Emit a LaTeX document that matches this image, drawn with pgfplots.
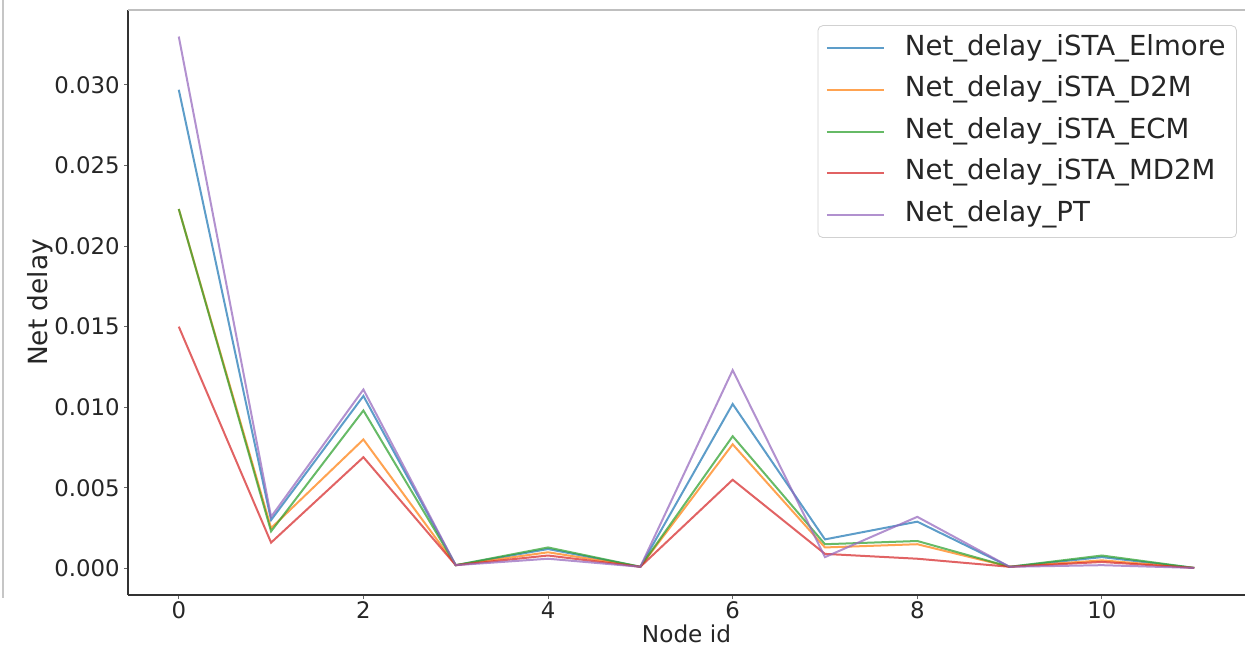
\documentclass[border=0pt]{standalone}
\usepackage{pgfplots}
\usepackage{pgfplotstable}
\usepackage{fontspec}
\setmainfont{DejaVu Sans}
\pgfplotsset{compat=1.18}

% matplotlib tab10 palette
\definecolor{tabblue}{HTML}{1F77B4}
\definecolor{taborange}{HTML}{FF7F0E}
\definecolor{tabgreen}{HTML}{2CA02C}
\definecolor{tabred}{HTML}{D62728}
\definecolor{tabpurple}{HTML}{9467BD}

% Net delay per node for each delay model
\pgfplotstableread{
node elmore  dtwom   ecm     mdtwom  pt
0    0.0297  0.0223  0.0223  0.0150  0.0330
1    0.0030  0.0025  0.0023  0.0016  0.0032
2    0.0107  0.0080  0.0098  0.0069  0.0111
3    0.0002  0.0002  0.0002  0.0002  0.0002
4    0.0012  0.0010  0.0013  0.0008  0.0006
5    0.0001  0.0001  0.0001  0.0001  0.0001
6    0.0102  0.0077  0.0082  0.0055  0.0123
7    0.0018  0.0013  0.0015  0.0009  0.0007
8    0.0029  0.0015  0.0017  0.0006  0.0032
9    0.0001  0.0001  0.0001  0.0001  0.0001
10   0.0007  0.0005  0.0008  0.0004  0.0002
11   0.00003 0.00003 0.00003 0.00003 0.00003
}\delays

\begin{document}
\begin{tikzpicture}
\useasboundingbox (0,0) rectangle (624pt,325.5pt);
\draw[gray!45, line width=0.6pt] (1.5pt,26.5pt) -- (1.5pt,325.5pt);
\begin{axis}[
  at={(64pt,28pt)}, anchor=south west,
  scale only axis, width=558.5pt, height=292.5pt,
  xmin=-0.55, xmax=11.55,
  ymin=-0.00165, ymax=0.03465,
  axis x line*=bottom, axis y line*=left,
  axis line style={draw=black!80, line width=0.6pt},
  xtick={0,2,4,6,8,10},
  ytick={0,0.005,0.010,0.015,0.020,0.025,0.030},
  scaled y ticks=false,
  yticklabel style={inner sep=2pt, /pgf/number format/.cd, fixed, fixed zerofill, precision=3},
  /pgf/number format/assume math mode=true,
  tick align=outside,
  major tick length=2pt,
  tick style={draw=black!60, line width=0.5pt},
  ticklabel style={font=\fontsize{11.4pt}{13pt}\selectfont, text=black!85},
  xticklabel style={inner sep=1pt},
  xlabel={Node id},
  ylabel={Net delay},
  xlabel style={font=\fontsize{11.6pt}{13pt}\selectfont, text=black!85, yshift=1.5pt},
  ylabel style={font=\fontsize{13.2pt}{15pt}\selectfont, text=black!85, yshift=-5pt},
  every axis plot/.append style={line width=1pt, opacity=0.72},
  legend cell align=left,
  legend image code/.code={\draw[#1, line width=1pt] (0pt,0pt) -- (28.5pt,0pt);},
  legend style={
    at={(rel axis cs:0.9928,0.974)}, anchor=north east,
    draw=black!18, rounded corners=2.5pt, fill=white, fill opacity=0.9, text opacity=1,
    font=\fontsize{13.8pt}{15pt}\selectfont, text=black!85,
    inner xsep=4pt, inner ysep=3.5pt,
    row sep=5pt, column sep=8.5pt,
    nodes={inner sep=1.5pt, text height=9.8pt, text depth=3pt},
  },
]
\addplot[tabblue]   table[x=node, y=elmore] {\delays};
\addlegendentry{Net\_delay\_iSTA\_Elmore}
\addplot[taborange] table[x=node, y=dtwom]  {\delays};
\addlegendentry{Net\_delay\_iSTA\_D2M}
\addplot[tabgreen]  table[x=node, y=ecm]    {\delays};
\addlegendentry{Net\_delay\_iSTA\_ECM}
\addplot[tabred]    table[x=node, y=mdtwom] {\delays};
\addlegendentry{Net\_delay\_iSTA\_MD2M}
\addplot[tabpurple] table[x=node, y=pt]     {\delays};
\addlegendentry{Net\_delay\_PT}
\draw[black!25, line width=0.6pt] (rel axis cs:0,1) -- (rel axis cs:1,1);
\end{axis}
\end{tikzpicture}
\end{document}
